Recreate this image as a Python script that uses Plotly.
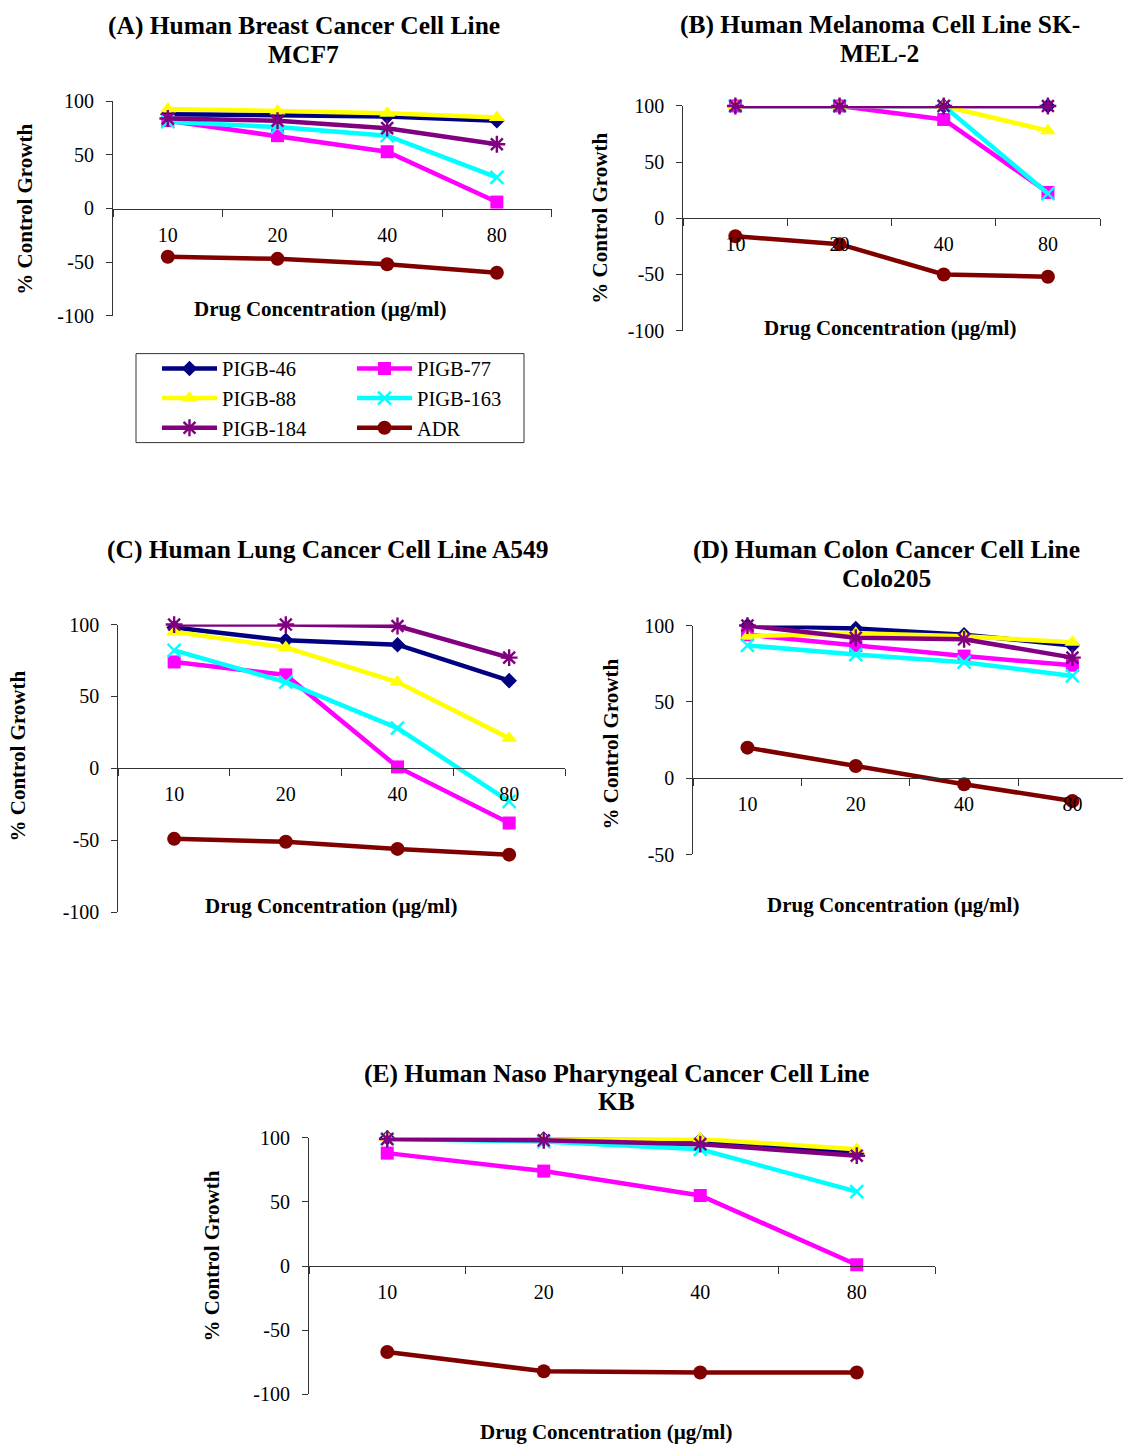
import plotly.graph_objects as go

# Drug concentrations (µg/ml) used as categories on every panel
concentrations = ["10", "20", "40", "80"]

series_names = ["PIGB-46", "PIGB-77", "PIGB-88", "PIGB-163", "PIGB-184", "ADR"]

# (A) MCF7 breast cancer
mcf7_46 = [88, 87, 86, 82]
mcf7_77 = [82, 68, 53, 6]
mcf7_88 = [93, 91, 89, 85]
mcf7_163 = [81, 76, 68, 29]
mcf7_184 = [84, 82, 75, 60]
mcf7_adr = [-45, -47, -52, -60]

# (B) SK-MEL-2 melanoma
skmel2_46 = [100, 100, 100, 100]
skmel2_77 = [100, 100, 88, 23]
skmel2_88 = [100, 100, 100, 78]
skmel2_163 = [100, 100, 100, 22]
skmel2_184 = [100, 100, 100, 100]
skmel2_adr = [-16, -23, -50, -52]

# (C) A549 lung cancer
a549_46 = [98, 89, 86, 61]
a549_77 = [74, 65, 1, -38]
a549_88 = [95, 84, 60, 21]
a549_163 = [82, 60, 28, -23]
a549_184 = [100, 100, 99, 77]
a549_adr = [-49, -51, -56, -60]

# (D) Colo205 colon cancer
colo205_46 = [100, 98, 94, 87]
colo205_77 = [94, 87, 80, 74]
colo205_88 = [93, 95, 93, 89]
colo205_163 = [87, 81, 76, 67]
colo205_184 = [100, 92, 91, 79]
colo205_adr = [20, 8, -4, -15]

# (E) KB naso pharyngeal cancer
kb_46 = [100, 99, 98, 88]
kb_77 = [88, 74, 55, 1]
kb_88 = [100, 99, 99, 91]
kb_163 = [99, 97, 91, 58]
kb_184 = [99, 98, 95, 86]
kb_adr = [-67, -82, -83, -83]

W, H = 1123, 1444
FONT = "Liberation Serif, Times New Roman, serif"

colors = ["#000080", "#FF00FF", "#FFFF00", "#00FFFF", "#800080", "#800000"]
markers = [
    dict(symbol="diamond", size=12),
    dict(symbol="square", size=13),
    dict(symbol="triangle-up", size=14),
    dict(symbol="x-thin-open", size=13, line=dict(width=2.4)),
    dict(symbol="asterisk-open", size=14, line=dict(width=2.4)),
    dict(symbol="circle", size=14),
]
legend_of = ["legend", "legend2", "legend", "legend2", "legend", "legend2"]


def px_x(p):
    return p / W


def px_y(p):
    # page-pixel row -> paper fraction (with the page's vertical offset/scale)
    return 1 - ((p - 10.3) / 0.985) / H


# panel layout in page pixels: x-domain, y of top/bottom of range, title lines
panels = [
    dict(data=[mcf7_46, mcf7_77, mcf7_88, mcf7_163, mcf7_184, mcf7_adr],
         xdom=(113, 551.7), ypx=(100.7, 315), yrange=(-100, 100), xr=(-0.5, 3.5),
         titles=[("(A) Human Breast Cancer Cell Line", 303.5, 25), ("MCF7", 303.5, 54)],
         ytitle=(25, 209), xtitle=(320, 308)),
    dict(data=[skmel2_46, skmel2_77, skmel2_88, skmel2_163, skmel2_184, skmel2_adr],
         xdom=(683.3, 1100), ypx=(105.3, 330), yrange=(-100, 100), xr=(-0.5, 3.5),
         titles=[("(B) Human Melanoma Cell Line SK-", 879.5, 24), ("MEL-2", 879.5, 53)],
         ytitle=(600, 218), xtitle=(890, 327)),
    dict(data=[a549_46, a549_77, a549_88, a549_163, a549_184, a549_adr],
         xdom=(118.3, 565), ypx=(624, 911.7), yrange=(-100, 100), xr=(-0.5, 3.5),
         titles=[("(C) Human Lung Cancer Cell Line A549", 328, 549)],
         ytitle=(18, 756), xtitle=(331, 906)),
    dict(data=[colo205_46, colo205_77, colo205_88, colo205_163, colo205_184, colo205_adr],
         xdom=(693.3, 1123), ypx=(625, 854), yrange=(-50, 100), xr=(-0.5, 3.467),
         titles=[("(D) Human Colon Cancer Cell Line", 886.5, 549), ("Colo205", 886.5, 578)],
         ytitle=(611, 744), xtitle=(893, 905)),
    dict(data=[kb_46, kb_77, kb_88, kb_163, kb_184, kb_adr],
         xdom=(309, 935), ypx=(1137.3, 1394), yrange=(-100, 100), xr=(-0.5, 3.5),
         titles=[("(E) Human Naso Pharyngeal Cancer Cell Line", 616, 1073), ("KB", 616, 1101)],
         ytitle=(212, 1256), xtitle=(606, 1432)),
]

fig = go.Figure()
layout = {}
annotations = []

for i, p in enumerate(panels):
    n = "" if i == 0 else str(i + 1)
    xname, yname = "x" + n, "y" + n
    ylo, yhi = p["yrange"]
    ytop_px, ybot_px = p["ypx"]
    zero_px = ytop_px + (ybot_px - ytop_px) * (yhi - 0) / (yhi - ylo)

    for k, name in enumerate(series_names):
        mk = dict(markers[k])
        mk["color"] = colors[k]
        if "line" in mk:
            mk["line"] = dict(mk["line"], color=colors[k])
        fig.add_trace(go.Scatter(
            x=concentrations, y=p["data"][k], name=name,
            mode="lines+markers",
            line=dict(color=colors[k], width=4.5),
            marker=mk,
            xaxis=xname, yaxis=yname,
            legend=legend_of[k], legendgroup=name,
            showlegend=(i == 0),
            cliponaxis=False,
        ))

    yticks = list(range(ylo, yhi + 1, 50))
    layout["xaxis" + n] = dict(
        domain=[px_x(p["xdom"][0]), px_x(p["xdom"][1])],
        type="category", range=list(p["xr"]),
        anchor="free", position=px_y(zero_px),
        tickson="boundaries", ticks="outside", ticklen=7, tickcolor="#333",
        showline=True, linecolor="#333", linewidth=1,
        showgrid=False, zeroline=False,
        tickfont=dict(family=FONT, size=20, color="black"),
        ticklabelstandoff=8,
    )
    layout["yaxis" + n] = dict(
        domain=[px_y(ybot_px), px_y(ytop_px)],
        range=[ylo, yhi], anchor=xname,
        tickvals=yticks, ticktext=[str(v) for v in yticks],
        ticks="outside", ticklen=6, tickcolor="#333",
        showline=True, linecolor="#333", linewidth=1,
        showgrid=False, zeroline=False,
        tickfont=dict(family=FONT, size=20, color="black"),
        ticklabelstandoff=8,
    )

    for text, tx, ty in p["titles"]:
        annotations.append(dict(
            text="<b>" + text + "</b>",
            x=px_x(tx), y=px_y(ty), xref="paper", yref="paper",
            xanchor="center", yanchor="middle", showarrow=False,
            font=dict(family=FONT, size=25.5, color="black"),
        ))
    annotations.append(dict(
        text="<b>% Control Growth</b>", textangle=-90,
        x=px_x(p["ytitle"][0]), y=px_y(p["ytitle"][1]), xref="paper", yref="paper",
        xanchor="center", yanchor="middle", showarrow=False,
        font=dict(family=FONT, size=21, color="black"),
    ))
    annotations.append(dict(
        text="<b>Drug Concentration (µg/ml)</b>",
        x=px_x(p["xtitle"][0]), y=px_y(p["xtitle"][1]), xref="paper", yref="paper",
        xanchor="center", yanchor="middle", showarrow=False,
        font=dict(family=FONT, size=21, color="black"),
    ))

legend_style = dict(
    xanchor="left", yanchor="top", bgcolor="rgba(0,0,0,0)", borderwidth=0,
    font=dict(family=FONT, size=20.5, color="black"), tracegroupgap=0,
    itemwidth=55,
)

fig.update_layout(
    width=W, height=H,
    margin=dict(l=0, r=0, t=0, b=0),
    paper_bgcolor="white", plot_bgcolor="white",
    annotations=annotations,
    legend=dict(legend_style, x=px_x(157), y=px_y(348)),
    legend2=dict(legend_style, x=px_x(352), y=px_y(348)),
    shapes=[dict(type="rect", xref="paper", yref="paper",
                 x0=px_x(136), x1=px_x(524), y0=px_y(442), y1=px_y(353),
                 line=dict(color="#333", width=1))],
    **layout,
)

fig.write_html("out.html")
